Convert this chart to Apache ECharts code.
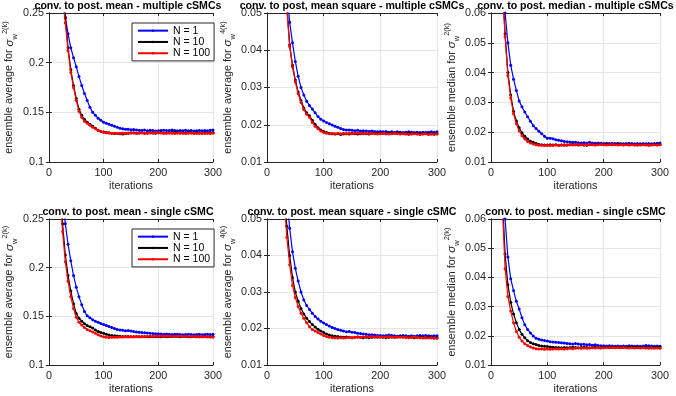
<!DOCTYPE html>
<html>
<head>
<meta charset="utf-8">
<script src="https://cdn.jsdelivr.net/npm/echarts@6/dist/echarts.min.js"></script>
<style>
html,body{margin:0;padding:0;background:#fff;}
#c{width:676px;height:396px;}
</style>
</head>
<body>
<div id="c"></div>
<script>
// ---------------- data ----------------
const iters = [5,10,15,20,25,30,35,40,45,50,55,60,65,70,75,80,85,90,95,100,
  105,110,115,120,125,130,135,140,145,150,155,160,165,170,175,180,185,190,195,200,
  205,210,215,220,225,230,235,240,245,250,255,260,265,270,275,280,285,290,295,300];

const seriesNames = ['N = 1', 'N = 10', 'N = 100'];

const titles = [
  'conv. to post. mean - multiple cSMCs',
  'conv. to post, mean square - multiple cSMCs',
  'conv. to post. median - multiple cSMCs',
  'conv. to post. mean - single cSMC',
  'conv. to post. mean square - single cSMC',
  'conv. to post. median - single cSMC'
];

const yLabelText = ['ensemble average for ', 'ensemble average for ', 'ensemble median for ',
                    'ensemble average for ', 'ensemble average for ', 'ensemble median for '];
const yLabelSup = ['2(k)', '4(k)', '2(k)', '2(k)', '4(k)', '2(k)'];

const xTicks = [0, 100, 200, 300];
const yMin = [0.1, 0.01, 0.01, 0.1, 0.01, 0.01];
const yMax = [0.25, 0.05, 0.06, 0.25, 0.05, 0.06];
const yStep = [0.05, 0.01, 0.01, 0.05, 0.01, 0.01];

// panel 1: mean, multiple cSMCs
const meanMultiN1 = [0.60,0.48,0.38,0.32,0.275,0.246,0.229,0.215,0.205,0.196,
  0.186,0.177,0.169,0.162,0.155,0.150,0.147,0.144,0.142,0.140,
  0.139,0.138,0.137,0.136,0.135,0.134,0.1335,0.133,0.133,0.1325,
  0.1328,0.1322,0.132,0.1318,0.1322,0.1315,0.132,0.1317,0.1313,0.1315,
  0.1318,0.1320,0.1316,0.1318,0.1321,0.1317,0.1314,0.1318,0.1315,0.1319,
  0.1314,0.1317,0.1313,0.1315,0.1318,0.1314,0.1317,0.1315,0.132,0.1322];
const meanMultiN10 = [0.55,0.44,0.36,0.31,0.275,0.245,0.215,0.193,0.177,0.164,
  0.153,0.147,0.143,0.140,0.138,0.136,0.134,0.132,0.131,0.1303,
  0.1298,0.1295,0.129,0.1288,0.1287,0.1285,0.1283,0.1288,0.129,0.1293,
  0.1295,0.129,0.1292,0.1294,0.129,0.1293,0.1296,0.1292,0.129,0.1294,
  0.1297,0.1293,0.1291,0.1295,0.1298,0.1302,0.1296,0.1293,0.1295,0.1292,
  0.1296,0.1294,0.1291,0.1295,0.1293,0.129,0.1294,0.1292,0.1295,0.1297];
const meanMultiN100 = [0.55,0.43,0.35,0.30,0.265,0.24,0.212,0.19,0.175,0.162,
  0.151,0.145,0.141,0.139,0.137,0.135,0.1335,0.132,0.1308,0.130,
  0.1295,0.1292,0.1288,0.129,0.1287,0.129,0.1293,0.129,0.1292,0.1295,
  0.1291,0.1289,0.1292,0.1295,0.1293,0.129,0.1292,0.1295,0.1298,0.1294,
  0.1291,0.1289,0.129,0.1293,0.129,0.1287,0.1289,0.1292,0.129,0.1287,
  0.129,0.1292,0.1289,0.1286,0.1289,0.1291,0.1288,0.129,0.1287,0.1289];

// panel 2: mean square, multiple cSMCs
const msqMultiN1 = [0.30,0.20,0.14,0.105,0.085,0.068,0.056,0.0475,0.042,0.037,
  0.033,0.030,0.028,0.0263,0.0252,0.0242,0.0232,0.0222,0.0215,0.0210,
  0.0206,0.0203,0.0199,0.0196,0.0193,0.0190,0.0187,0.0186,0.0186,0.0185,
  0.0184,0.0185,0.0183,0.0184,0.0183,0.0182,0.0183,0.0182,0.0181,0.0182,
  0.0181,0.0182,0.0180,0.0181,0.0180,0.0181,0.0180,0.0179,0.0180,0.0181,
  0.0180,0.0179,0.0180,0.0179,0.0180,0.0179,0.0180,0.0181,0.0180,0.0181];
const msqMultiN10 = [0.28,0.19,0.13,0.098,0.078,0.063,0.052,0.0415,0.036,0.032,
  0.0288,0.0265,0.0245,0.0232,0.0224,0.0212,0.0201,0.0192,0.0186,0.0182,
  0.0179,0.0177,0.0176,0.0175,0.0176,0.0174,0.0175,0.0176,0.0175,0.0177,
  0.0176,0.0175,0.0176,0.0177,0.0176,0.0175,0.0177,0.0178,0.0177,0.0178,
  0.0177,0.0176,0.0177,0.0178,0.0177,0.0179,0.0178,0.0177,0.0176,0.0177,
  0.0176,0.0177,0.0176,0.0175,0.0176,0.0177,0.0176,0.0175,0.0176,0.0176];
const msqMultiN100 = [0.28,0.19,0.13,0.097,0.077,0.062,0.051,0.041,0.0355,0.0315,
  0.0283,0.026,0.0241,0.0228,0.022,0.0206,0.0196,0.0189,0.0183,0.0179,
  0.0177,0.0176,0.0177,0.0176,0.0177,0.0176,0.0177,0.0176,0.0177,0.0176,
  0.0177,0.0178,0.0177,0.0176,0.0177,0.0176,0.0177,0.0176,0.0175,0.0176,
  0.0177,0.0176,0.0175,0.0176,0.0177,0.0176,0.0175,0.0176,0.0175,0.0174,
  0.0175,0.0176,0.0175,0.0174,0.0175,0.0176,0.0174,0.0175,0.0174,0.0175];

// panel 3: median, multiple cSMCs
const medMultiN1 = [0.30,0.18,0.11,0.077,0.060,0.050,0.0425,0.0378,0.0340,0.0305,
  0.0285,0.0268,0.0252,0.0237,0.0222,0.0212,0.0203,0.0195,0.0186,0.0180,
  0.0180,0.0178,0.0175,0.0173,0.0171,0.0169,0.0168,0.0167,0.0166,0.0166,
  0.0165,0.0164,0.0165,0.0164,0.0166,0.0164,0.0163,0.0164,0.0163,0.0162,
  0.0163,0.0162,0.0163,0.0162,0.0163,0.0162,0.0161,0.0162,0.0163,0.0162,
  0.0161,0.0162,0.0161,0.0162,0.0161,0.0162,0.0161,0.0162,0.0163,0.0164];
const medMultiN10 = [0.25,0.15,0.095,0.07,0.053,0.040,0.0325,0.027,0.0238,0.0215,
  0.0198,0.0186,0.0177,0.0170,0.0166,0.0162,0.0159,0.0158,0.0157,0.0157,
  0.0158,0.0157,0.0158,0.0156,0.0157,0.0156,0.0157,0.0158,0.0159,0.0158,
  0.0157,0.0158,0.0157,0.0156,0.0158,0.0159,0.0158,0.0159,0.0160,0.0159,
  0.0160,0.0159,0.0158,0.0159,0.0160,0.0159,0.0158,0.0159,0.0158,0.0159,
  0.0158,0.0157,0.0158,0.0159,0.0158,0.0157,0.0158,0.0159,0.0158,0.0159];
const medMultiN100 = [0.25,0.15,0.095,0.07,0.052,0.039,0.0315,0.0262,0.0228,0.0205,
  0.0188,0.0177,0.0169,0.0164,0.0160,0.0158,0.0156,0.0156,0.0155,0.0156,
  0.0155,0.0156,0.0157,0.0156,0.0157,0.0158,0.0157,0.0158,0.0157,0.0158,
  0.0159,0.0158,0.0157,0.0158,0.0159,0.0158,0.0157,0.0158,0.0159,0.0158,
  0.0157,0.0158,0.0159,0.0158,0.0157,0.0158,0.0157,0.0158,0.0157,0.0158,
  0.0157,0.0158,0.0157,0.0158,0.0157,0.0156,0.0157,0.0158,0.0157,0.0158];

// panel 4: mean, single cSMC
const meanSingleN1 = [0.60,0.47,0.38,0.32,0.275,0.245,0.224,0.207,0.192,0.180,
  0.170,0.162,0.155,0.1505,0.1485,0.1465,0.145,0.1438,0.1426,0.1416,
  0.1405,0.1395,0.1385,0.1375,0.1366,0.136,0.1357,0.1352,0.1355,0.1349,
  0.1343,0.134,0.1337,0.1334,0.1332,0.133,0.1326,0.1323,0.1321,0.132,
  0.1318,0.1316,0.1318,0.1315,0.1313,0.1315,0.1317,0.1314,0.1312,0.1314,
  0.1316,0.1313,0.1311,0.1313,0.1315,0.1312,0.1314,0.1316,0.1313,0.1315];
const meanSingleN10 = [0.55,0.43,0.35,0.29,0.245,0.213,0.192,0.176,0.163,0.153,
  0.148,0.145,0.1425,0.1405,0.1392,0.138,0.136,0.1345,0.1335,0.1325,
  0.1315,0.1308,0.1303,0.130,0.1298,0.1295,0.1293,0.1292,0.1293,0.1291,
  0.129,0.1292,0.1291,0.129,0.1292,0.1291,0.1289,0.129,0.1291,0.129,
  0.1291,0.1292,0.1291,0.1293,0.1292,0.1294,0.1293,0.1291,0.1293,0.1292,
  0.129,0.1291,0.1293,0.1291,0.129,0.1291,0.1292,0.129,0.1291,0.129];
const meanSingleN100 = [0.55,0.42,0.34,0.28,0.237,0.206,0.186,0.17,0.158,0.149,
  0.144,0.141,0.1385,0.1365,0.1352,0.134,0.1325,0.131,0.1298,0.129,
  0.1285,0.1283,0.1285,0.1284,0.1286,0.1288,0.1287,0.1289,0.1288,0.129,
  0.1289,0.1291,0.129,0.1292,0.1291,0.1293,0.1295,0.1294,0.1296,0.1295,
  0.1297,0.1299,0.1296,0.1298,0.1296,0.1294,0.1296,0.1295,0.1293,0.1295,
  0.1293,0.1292,0.1294,0.1292,0.1291,0.1293,0.1291,0.129,0.1288,0.1287];

// panel 5: mean square, single cSMC
const msqSingleN1 = [0.30,0.20,0.14,0.105,0.084,0.068,0.056,0.0475,0.041,0.0365,
  0.033,0.030,0.0278,0.0263,0.0252,0.0242,0.0233,0.0226,0.022,0.0215,
  0.0211,0.0207,0.0203,0.020,0.0197,0.0195,0.0193,0.0191,0.0192,0.019,
  0.0189,0.0187,0.0186,0.0185,0.0184,0.0183,0.0183,0.0182,0.0181,0.0181,
  0.018,0.0181,0.0182,0.0181,0.018,0.0179,0.018,0.0181,0.018,0.0179,
  0.018,0.0179,0.018,0.0181,0.018,0.0181,0.018,0.0179,0.018,0.018];
const msqSingleN10 = [0.28,0.19,0.13,0.097,0.076,0.06,0.048,0.040,0.034,0.030,
  0.0275,0.0255,0.024,0.0228,0.0219,0.0211,0.0204,0.0198,0.0193,0.0189,
  0.0185,0.0182,0.018,0.0179,0.0178,0.0177,0.0176,0.0177,0.0176,0.0175,
  0.0176,0.0177,0.0176,0.0175,0.0176,0.0175,0.0176,0.0177,0.0176,0.0177,
  0.0176,0.0175,0.0176,0.0177,0.0176,0.0177,0.0178,0.0177,0.0176,0.0177,
  0.0176,0.0175,0.0176,0.0177,0.0176,0.0175,0.0176,0.0175,0.0174,0.0175];
const msqSingleN100 = [0.27,0.18,0.125,0.093,0.072,0.056,0.045,0.0375,0.0318,0.0285,
  0.026,0.0242,0.0228,0.0216,0.0205,0.0197,0.0193,0.0189,0.0185,0.0181,
  0.0178,0.0176,0.0175,0.0175,0.0174,0.0175,0.0174,0.0175,0.0176,0.0175,
  0.0176,0.0177,0.0176,0.0177,0.0178,0.0177,0.0178,0.0177,0.0178,0.0177,
  0.0176,0.0177,0.0178,0.0177,0.0176,0.0177,0.0176,0.0177,0.0176,0.0175,
  0.0176,0.0177,0.0176,0.0175,0.0174,0.0175,0.0174,0.0175,0.0174,0.0173];

// panel 6: median, single cSMC
const medSingleN1 = [0.30,0.18,0.11,0.078,0.060,0.047,0.0395,0.0355,0.0318,0.0292,
  0.0262,0.0238,0.0222,0.021,0.0199,0.0192,0.0188,0.0186,0.0184,0.0182,
  0.018,0.0179,0.0178,0.0177,0.0176,0.0175,0.0174,0.0173,0.0172,0.0174,
  0.0172,0.017,0.0171,0.0169,0.017,0.0168,0.0169,0.0167,0.0166,0.0166,
  0.0165,0.0166,0.0165,0.0164,0.0165,0.0164,0.0165,0.0164,0.0166,0.0165,
  0.0164,0.0165,0.0164,0.0165,0.0167,0.0166,0.0165,0.0164,0.0165,0.0164];
const medSingleN10 = [0.25,0.15,0.10,0.068,0.048,0.0375,0.0315,0.0275,0.0245,0.0222,
  0.0205,0.0193,0.0183,0.0177,0.0173,0.017,0.0167,0.0165,0.0164,0.0163,
  0.0162,0.0161,0.016,0.016,0.0159,0.016,0.0159,0.016,0.0161,0.016,
  0.0159,0.016,0.0161,0.016,0.0159,0.016,0.0161,0.016,0.0159,0.016,
  0.0161,0.016,0.0161,0.0162,0.0161,0.016,0.0161,0.016,0.0161,0.0162,
  0.0161,0.016,0.0161,0.016,0.0161,0.016,0.0159,0.016,0.0161,0.016];
const medSingleN100 = [0.24,0.14,0.095,0.065,0.043,0.0335,0.0285,0.0245,0.0215,0.0195,
  0.0182,0.0173,0.0167,0.0162,0.0158,0.0156,0.0155,0.0155,0.0154,0.0155,
  0.0154,0.0155,0.0156,0.0155,0.0156,0.0155,0.0156,0.0157,0.0156,0.0157,
  0.0158,0.0157,0.0158,0.0157,0.0158,0.0159,0.0158,0.0159,0.0158,0.0159,
  0.016,0.0159,0.016,0.0159,0.016,0.0159,0.016,0.0159,0.0158,0.0159,
  0.0158,0.0159,0.0158,0.0159,0.0158,0.0157,0.0158,0.0157,0.0158,0.0157];

const panelData = [
  [meanMultiN1, meanMultiN10, meanMultiN100],
  [msqMultiN1, msqMultiN10, msqMultiN100],
  [medMultiN1, medMultiN10, medMultiN100],
  [meanSingleN1, meanSingleN10, meanSingleN100],
  [msqSingleN1, msqSingleN10, msqSingleN100],
  [medSingleN1, medSingleN10, medSingleN100]
];

// ---------------- layout / style ----------------
const colors = ['#0000ff', '#000000', '#ff0000'];
const gridPos = [
  {left: 43, top: 13, width: 170, height: 149},
  {left: 267, top: 13, width: 170, height: 149},
  {left: 491, top: 13, width: 169, height: 149},
  {left: 43, top: 219, width: 170, height: 149},
  {left: 267, top: 219, width: 170, height: 149},
  {left: 491, top: 219, width: 169, height: 149}
];
const FONT = '"Liberation Sans", Arial, Helvetica, sans-serif';
const AX = '#262626';
const GRIDC = '#e5e5e5';

const chart = echarts.init(document.getElementById('c'), null, {renderer: 'canvas'});

const grid = [], xAxis = [], yAxis = [], series = [], title = [];
gridPos.forEach((g, i) => {
  grid.push({left: g.left, top: g.top, width: g.width, height: g.height, containLabel: false});
  title.push({
    text: titles[i], left: g.left + g.width / 2, top: g.top - 12, textAlign: 'center', padding: 0,
    textStyle: {fontSize: 10.6, fontWeight: 'bold', color: '#000', fontFamily: FONT}
  });
  const axCommon = {
    gridIndex: i, type: 'value',
    axisLine: {show: true, lineStyle: {color: AX, width: 1}},
    axisTick: {show: true, inside: true, length: 3, lineStyle: {color: AX}},
  };
  xAxis.push(Object.assign({}, axCommon, {
    position: 'bottom', min: xTicks[0], max: xTicks[xTicks.length - 1], interval: 100,
    name: 'iterations', nameLocation: 'middle', nameGap: 19,
    nameTextStyle: {fontSize: 10.8, color: AX, fontFamily: FONT},
    axisLabel: {margin: 6, fontSize: 10.8, color: AX, fontFamily: FONT},
    splitLine: {show: true, lineStyle: {color: GRIDC, width: 1}}
  }));
  xAxis.push(Object.assign({}, axCommon, {
    position: 'top', min: xTicks[0], max: xTicks[xTicks.length - 1], interval: 100,
    axisLabel: {show: false}, splitLine: {show: false}
  }));
  const yname = '{b|' + yLabelText[i] + '}{s|σ}{sub|w}{sup|' + yLabelSup[i] + '}';
  yAxis.push(Object.assign({}, axCommon, {
    position: 'left', min: yMin[i], max: yMax[i], interval: yStep[i],
    name: yname, nameLocation: 'middle', nameGap: 22,
    nameTextStyle: {
      color: AX, fontFamily: FONT, fontSize: 10.8,
      rich: {
        b: {fontSize: 10.8, color: AX, fontFamily: FONT, lineHeight: 22},
        s: {fontSize: 11.5, color: AX, fontFamily: FONT, fontStyle: 'italic'},
        sub: {fontSize: 7.5, color: AX, fontFamily: FONT, padding: [11, 0, 0, 0]},
        sup: {fontSize: 7.5, color: AX, fontFamily: FONT, padding: [0, 0, 9, 0]}
      }
    },
    axisLabel: {margin: 5, fontSize: 10.8, color: AX, fontFamily: FONT},
    splitLine: {show: true, lineStyle: {color: GRIDC, width: 1}}
  }));
  yAxis.push(Object.assign({}, axCommon, {
    position: 'right', min: yMin[i], max: yMax[i], interval: yStep[i],
    axisLabel: {show: false}, splitLine: {show: false}
  }));
  panelData[i].forEach((vals, k) => {
    series.push({
      type: 'line', name: seriesNames[k],
      xAxisIndex: 2 * i, yAxisIndex: 2 * i,
      data: iters.map((x, j) => [x, vals[j]]),
      symbol: 'circle', symbolSize: 3, showSymbol: true,
      lineStyle: {color: colors[k], width: 1.2},
      itemStyle: {color: colors[k]},
      clip: true, silent: true, z: 2 + k
    });
  });
});

const legendCommon = {
  orient: 'vertical', data: seriesNames, left: 132,
  backgroundColor: '#fff', borderColor: AX, borderWidth: 1,
  padding: [2, 4, 2, 5], itemGap: 0, itemWidth: 30, itemHeight: 3,
  textStyle: {fontSize: 10.5, color: '#000', fontFamily: FONT, lineHeight: 11.3},
  selectedMode: false
};
const legend = [
  Object.assign({}, legendCommon, {top: 23}),
  Object.assign({}, legendCommon, {top: 229})
];

chart.setOption({
  animation: false,
  backgroundColor: '#fff',
  textStyle: {fontFamily: FONT},
  title, grid, xAxis, yAxis, series, legend
});
</script>
</body>
</html>
